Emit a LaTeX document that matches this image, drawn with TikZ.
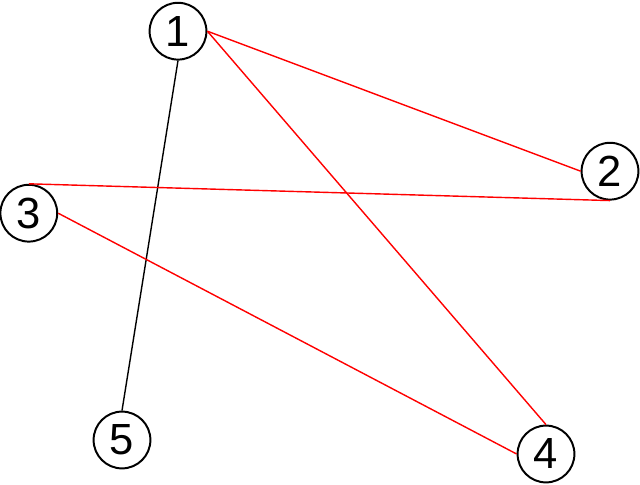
\documentclass[tikz,border=0pt]{standalone}
\usepackage{fontspec}
\setmainfont{Liberation Sans}
\usepackage{tikz}
\tikzset{
        vertex/.style={circle, draw=black, line width=1.4pt, fill=white, inner sep=0pt, minimum size=1.42cm, font=\fontsize{31}{33}\selectfont}, % the numbered circles
        redge/.style={draw=red, line width=1pt}, % red edges
        bedge/.style={draw=black, line width=1pt}, % the black edge
}
\begin{document}
\begin{tikzpicture}
      \useasboundingbox (0,0) rectangle (16,12.1);
      \node[vertex] (n1) at (4.45,11.32) {1};
      \node[vertex] (n2) at (15.25,7.82) {2};
      \node[vertex] (n3) at (0.72,6.77) {3};
      \node[vertex] (n4) at (13.65,0.75) {4};
      \node[vertex] (n5) at (3.05,1.1) {5};
      % \draw[bedge] (n1) -- (n5);
      \draw[bedge] (n1.south) -- (n5.north);
      \draw[redge] (n1.east) -- (n2.west);
      \draw[redge] (n1.east) -- (n4.north);
      \draw[redge] (n3.north) -- (n2.south);
      \draw[redge] (n3.east) -- (n4.west);
\end{tikzpicture}
\end{document}
